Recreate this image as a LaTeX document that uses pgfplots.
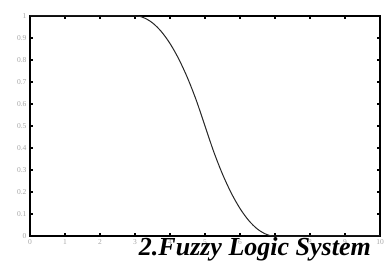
\documentclass[border=0pt]{standalone}
\usepackage{pgfplots}
\pgfplotsset{compat=1.18}
\usepackage{fontspec}
\setmainfont{Liberation Serif}
\begin{document}
\begin{tikzpicture}[x=1pt,y=1pt]
\useasboundingbox (0,0) rectangle (384,262);
\begin{axis}[
  at={(30pt,26pt)}, anchor=south west,
  scale only axis, width=350pt, height=220pt,
  xmin=0, xmax=10, ymin=0, ymax=1,
  xtick={0,1,...,10},
  ytick={0,0.1,...,1},
  yticklabels={0,0.1,0.2,0.3,0.4,0.5,0.6,0.7,0.8,0.9,1},
  tick align=inside,
  major tick length=3pt,
  tick style={line width=1.2pt, black},
  axis line style={line width=1.2pt},
  tick label style={font=\fontsize{7.5}{8}\selectfont, text=black!35},
  /pgf/number format/assume math mode=true,
  clip=false,
]
\addplot[black!85, line width=1pt, smooth] coordinates {
(0,1) (1,1) (2,1) (3,1) (3.25,0.9922) (3.5,0.96875) (3.75,0.9297) (4,0.875)
(4.25,0.8047) (4.5,0.71875) (4.75,0.6172) (5,0.5) (5.25,0.3828) (5.5,0.28125)
(5.75,0.1953) (6,0.125) (6.25,0.0703) (6.5,0.03125) (6.75,0.0078) (7,0)
(8,0) (9,0) (10,0)
};
\end{axis}
\node[anchor=base east, font=\fontsize{26}{28}\selectfont\bfseries\itshape, inner sep=0pt] at (371,6.5) {2.Fuzzy Logic System};
\end{tikzpicture}
\end{document}
